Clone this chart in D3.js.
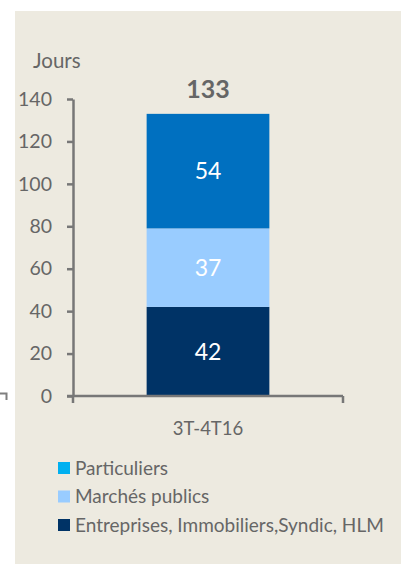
<!DOCTYPE html>
<html>
<head>
<meta charset="utf-8">
<script src="https://cdn.jsdelivr.net/npm/d3@7"></script>
<style>
  html, body { margin: 0; padding: 0; background: #fff; }
  svg { display: block; font-family: Lato, "Open Sans", sans-serif; }
</style>
</head>
<body>
<div id="chart"></div>
<script>
// chart values
const categories = ['3T-4T16'];
const seriesNames = ['Entreprises, Immobiliers,Syndic, HLM', 'Marchés publics', 'Particuliers'];
const seriesValues = [[42], [37], [54]];
const totals = [133];
const yTicks = [0, 20, 40, 60, 80, 100, 120, 140];
const legendOrder = ['Particuliers', 'Marchés publics', 'Entreprises, Immobiliers,Syndic, HLM'];

const barColors = { 'Entreprises, Immobiliers,Syndic, HLM': '#003366', 'Marchés publics': '#99CCFF', 'Particuliers': '#0070C0' };
const legendColors = { 'Entreprises, Immobiliers,Syndic, HLM': '#003366', 'Marchés publics': '#99CCFF', 'Particuliers': '#00B0F0' };

const dimensions = {
  width: 401,
  height: 564,
  margin: { top: 99, bottom: 168, left: 73, right: 58 }
};

const svg = d3.select('#chart').append('svg')
  .attr('width', dimensions.width)
  .attr('height', dimensions.height);

// panel background
svg.append('rect').attr('x', 15).attr('y', 11).attr('width', dimensions.width - 15).attr('height', dimensions.height - 11).attr('fill', '#EDEAE0');

// small stray bracket at the left edge
svg.append('path').attr('d', 'M0,393.5 H6.5 V400').attr('fill', 'none').attr('stroke', '#7f7f7f').attr('stroke-width', 2);

const bodyWidth = dimensions.width - dimensions.margin.left - dimensions.margin.right;
const bodyHeight = dimensions.height - dimensions.margin.top - dimensions.margin.bottom;

const xScale = d3.scaleBand()
  .domain(categories)
  .range([0, bodyWidth])
  .paddingInner(0)
  .paddingOuter(0.6);

const yScale = d3.scaleLinear()
  .domain([0, 140])
  .range([bodyHeight, 0]);

const body = svg.append('g')
  .attr('transform', `translate(${dimensions.margin.left},${dimensions.margin.top})`);

// stacked data
const rows = categories.map((c, i) => {
  const r = { category: c };
  seriesNames.forEach((s, j) => { r[s] = seriesValues[j][i]; });
  return r;
});
const stacked = d3.stack().keys(seriesNames)(rows);

const layers = body.selectAll('.layer').data(stacked).enter().append('g')
  .attr('class', 'layer')
  .attr('fill', d => barColors[d.key]);

layers.selectAll('rect').data(d => d).enter().append('rect')
  .attr('x', d => xScale(d.data.category))
  .attr('y', d => yScale(d[1]))
  .attr('width', xScale.bandwidth())
  .attr('height', d => yScale(d[0]) - yScale(d[1]));

layers.selectAll('text').data(d => d.map(v => ({ v, key: d.key }))).enter().append('text')
  .attr('x', d => xScale(d.v.data.category) + xScale.bandwidth() / 2)
  .attr('y', d => (yScale(d.v[0]) + yScale(d.v[1])) / 2)
  .attr('dy', '0.36em')
  .attr('text-anchor', 'middle')
  .attr('fill', '#fff')
  .attr('font-size', '23px')
  .text(d => d.v.data[d.key]);

// totals
body.selectAll('.total').data(categories).enter().append('text')
  .attr('class', 'total')
  .attr('x', d => xScale(d) + xScale.bandwidth() / 2)
  .attr('y', (d, i) => yScale(totals[i]) - 16)
  .attr('text-anchor', 'middle')
  .attr('font-size', '25px')
  .attr('font-weight', 'bold')
  .attr('fill', '#666')
  .text((d, i) => totals[i]);

// axes
const yAxis = d3.axisLeft(yScale).tickValues(yTicks).tickSize(6).tickPadding(15).tickSizeOuter(0);
const yG = body.append('g').call(yAxis);
yG.select('.domain').attr('stroke', '#777').attr('stroke-width', 2.5);
yG.selectAll('.tick line').attr('stroke', '#777').attr('stroke-width', 2.5);
yG.selectAll('.tick text').attr('fill', '#666').attr('font-size', '19.5px').attr('font-family', 'Lato, "Open Sans", sans-serif');

const xG = body.append('g').attr('transform', `translate(0,${bodyHeight})`);
xG.append('line').attr('x1', -6).attr('x2', bodyWidth).attr('stroke', '#777').attr('stroke-width', 2.5);
xG.selectAll('.edge').data([0, bodyWidth]).enter().append('line')
  .attr('x1', d => d).attr('x2', d => d).attr('y1', 0).attr('y2', 7)
  .attr('stroke', '#777').attr('stroke-width', 2.5);
xG.selectAll('.cat').data(categories).enter().append('text')
  .attr('x', d => xScale(d) + xScale.bandwidth() / 2)
  .attr('y', 39)
  .attr('text-anchor', 'middle')
  .attr('fill', '#666')
  .attr('font-size', '18.5px')
  .text(d => d);

// axis title
svg.append('text').attr('x', 33).attr('y', 68).attr('fill', '#666').attr('font-size', '20.5px').text('Jours');

// legend
const legend = svg.append('g').attr('transform', 'translate(58,468)');
const item = legend.selectAll('.legendItem').data(legendOrder).enter().append('g')
  .attr('class', 'legendItem')
  .attr('transform', (d, i) => `translate(0,${i * 28.5})`);
item.append('rect').attr('x', 0).attr('y', -6).attr('width', 12).attr('height', 12).attr('fill', d => legendColors[d]);
item.append('text').attr('x', 17).attr('y', 0).attr('dy', '0.36em').attr('fill', '#666').attr('font-size', '19px').text(d => d);
</script>
</body>
</html>
